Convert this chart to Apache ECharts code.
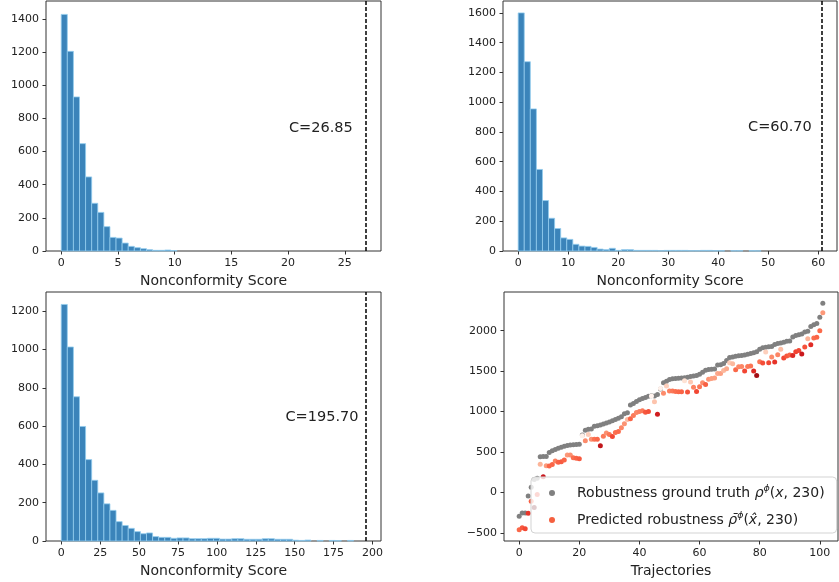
<!DOCTYPE html>
<html><head><meta charset="utf-8">
<script src="https://cdn.jsdelivr.net/npm/echarts@6/dist/echarts.min.js"></script>
<style>html,body{margin:0;padding:0;background:#fff}#c{width:839px;height:582px}</style>
</head><body><div id="c"></div>
<script>
// ---------------- data ----------------
const binCount = 50;
const cValues = [26.85, 60.70, 195.70];
const cLabels = ['C=26.85', 'C=60.70', 'C=195.70'];
const hist1Counts = [1428,1205,930,648,447,288,233,147,82,78,48,28,20,14,8,4,4,6,3,0,
  0,0,0,0,0,0,0,0,0,0, 0,0,0,0,0,0,0,0,0,0, 0,0,0,0,0,0,0,0,0,0];
const hist2Counts = [1600,1272,955,548,339,220,151,88,78,45,33,31,24,13,9,18,4,9,9,4,
  4,4,4,2,4,4,4,4,2,2,4,4,2,2,0,2,2,0,2,1, 0,0,0,0,0,0,0,0,0,0];
const hist3Counts = [1235,1013,753,598,425,317,251,194,160,101,81,66,49,38,42,23,19,19,14,16,
  16,12,12,12,14,14,10,10,12,12,9,9,9,12,12,9,9,9,4,3, 5,0,3,0,3,2,0,3,0,0];
const histX1Ticks = [0,5,10,15,20,25];
const histX2Ticks = [0,10,20,30,40,50,60];
const histX3Ticks = [0,25,50,75,100,125,150,175,200];
const histY1Ticks = [0,200,400,600,800,1000,1200,1400];
const histY2Ticks = [0,200,400,600,800,1000,1200,1400,1600];
const histY3Ticks = [0,200,400,600,800,1000,1200];
const trajXTicks = [0,20,40,60,80,100];
const trajYTicks = [-500,0,500,1000,1500,2000];

const groundTruth = [-295,-255,-255,-45,65,160,175,440,445,445,
  495,515,530,545,558,570,580,588,590,593,
  597,710,770,780,785,818,825,835,845,860,
  870,888,903,918,935,972,985,1080,1100,1125,
  1145,1160,1175,1188,1195,1192,1210,1280,1355,1375,
  1395,1405,1410,1412,1415,1418,1425,1432,1440,1445,
  1460,1485,1510,1520,1522,1526,1575,1580,1595,1630,
  1668,1676,1684,1690,1694,1698,1708,1718,1728,1738,
  1770,1790,1796,1800,1805,1828,1840,1848,1858,1868,
  1872,1922,1940,1950,1960,1985,1992,2050,2072,2090,
  2165,2340];
const predicted = [-462,-435,-450,-258,-110,-185,-25,350,195,330,
  326,345,388,372,380,400,462,462,430,422,
  418,700,639,717,659,659,657,577,696,734,
  717,692,742,754,800,849,903,911,952,989,
  1002,1010,993,1000,1192,1120,968,1286,1225,1315,
  1253,1253,1249,1245,1245,1380,1241,1365,1300,1249,
  1307,1356,1336,1398,1410,1414,1472,1470,1509,1530,
  1604,1591,1517,1554,1558,1501,1558,1563,1500,1447,
  1615,1600,1736,1604,1674,1612,1703,1769,1661,1686,
  1700,1694,1740,1755,1711,1798,1901,1826,1909,1920,
  2000,2222];
const trajectories = groundTruth.map((_, i) => i);

// ---------------- helpers ----------------
const FONT = 'DejaVu Sans';
const TXT = '#222';
const AX = '#333';

function histData(counts, c) {
  const w = c / binCount;
  return counts.map((n, i) => [i * w, (i + 1) * w, n]);
}
function renderBin(params, api) {
  const h = api.value(2);
  if (!(h > 0)) return null;
  const p0 = api.coord([api.value(0), 0]);
  const p1 = api.coord([api.value(1), h]);
  return {
    type: 'rect',
    shape: { x: p0[0], y: p1[1], width: p1[0] - p0[0], height: p0[1] - p1[1] },
    style: { fill: '#3b84ba', stroke: '#93cdef', lineWidth: 0.8 }
  };
}
function xAxisOf(idx, min, max, ticks, name) {
  return {
    type: 'value', gridIndex: idx, min: min, max: max,
    name: name, nameLocation: 'middle', nameGap: 23,
    nameTextStyle: { fontSize: 14, color: TXT, fontFamily: FONT },
    axisLine: { show: false, onZero: false },
    splitLine: { show: false },
    axisTick: { show: true, inside: false, length: 3.5, lineStyle: { color: AX, width: 1 }, customValues: ticks },
    axisLabel: { show: true, margin: 7, fontSize: 11, color: TXT, fontFamily: FONT, customValues: ticks }
  };
}
function yAxisOf(idx, min, max, ticks) {
  return {
    type: 'value', gridIndex: idx, min: min, max: max,
    axisLine: { show: false, onZero: false },
    splitLine: { show: false },
    axisTick: { show: true, inside: false, length: 3.5, lineStyle: { color: AX, width: 1 }, customValues: ticks },
    axisLabel: { show: true, margin: 7, fontSize: 11, color: TXT, fontFamily: FONT,
      customValues: ticks, formatter: v => (v < 0 ? '\u2212' + Math.abs(v) : String(v)) }
  };
}
function gridOf(left, top, width, height) {
  return { left: left, top: top, width: width, height: height, show: true,
    borderColor: AX, borderWidth: 1, backgroundColor: 'transparent', containLabel: false };
}
function cLineSeries(idx, c, tx, ty, label) {
  return {
    type: 'line', xAxisIndex: idx, yAxisIndex: idx, data: [], silent: true,
    markLine: {
      silent: true, symbol: 'none', animation: false,
      label: { show: false },
      lineStyle: { color: '#000', width: 1.5, type: [4, 2] },
      data: [{ xAxis: c }]
    },
    markPoint: {
      silent: true, symbol: 'circle', symbolSize: 0, animation: false,
      data: [{ coord: [tx, ty],
        label: { show: true, position: 'left', distance: 0, formatter: label,
          fontSize: 14.5, color: TXT, fontFamily: FONT } }]
    }
  };
}

const reds = ['#fff5f0','#fee0d2','#fcbba1','#fc9272','#fb6a4a','#ef3b2c','#cb181d','#a50f15','#67000d'];
const predData = trajectories.map((t, i) => [t, predicted[i], Math.abs(groundTruth[i] - predicted[i])]);
const gtData = trajectories.map((t, i) => [t, groundTruth[i]]);

const legendRich = {
  i: { fontStyle: 'italic', fontSize: 14, fontFamily: FONT, color: TXT },
  s: { fontStyle: 'italic', fontSize: 9.5, fontFamily: FONT, color: TXT, verticalAlign: 'top' }
};

const option = {
  animation: false,
  backgroundColor: '#fff',
  textStyle: { fontFamily: FONT },
  grid: [
    gridOf(46, 1, 335, 250),
    gridOf(503, 1, 334, 250),
    gridOf(46, 292, 335, 249),
    gridOf(504, 292, 334, 249)
  ],
  xAxis: [
    xAxisOf(0, -1.3425, 28.1925, histX1Ticks, 'Nonconformity Score'),
    xAxisOf(1, -3.035, 63.735, histX2Ticks, 'Nonconformity Score'),
    xAxisOf(2, -9.785, 205.485, histX3Ticks, 'Nonconformity Score'),
    xAxisOf(3, -5.05, 106.05, trajXTicks, 'Trajectories')
  ],
  yAxis: [
    yAxisOf(0, 0, 1509, histY1Ticks),
    yAxisOf(1, 0, 1680, histY2Ticks),
    yAxisOf(2, 0, 1300, histY3Ticks),
    yAxisOf(3, -600, 2478, trajYTicks)
  ],
  visualMap: {
    show: false, type: 'continuous', seriesIndex: 4, dimension: 2,
    min: 0, max: 330, inRange: { color: reds }
  },
  legend: {
    left: 531, top: 477, orient: 'vertical',
    data: ['gt', 'pred'],
    icon: 'circle', itemWidth: 40, itemHeight: 6, itemGap: 9,
    padding: [7, 12, 4, 18],
    backgroundColor: 'rgba(255,255,255,0.8)',
    borderColor: '#d3d3d3', borderWidth: 1, borderRadius: 4,
    selectedMode: false,
    textStyle: { fontSize: 14, color: TXT, fontFamily: FONT, lineHeight: 18, rich: legendRich },
    formatter: function (name) {
      if (name === 'gt') return 'Robustness ground truth {i|\u03c1}{s|\u03d5}({i|x}, 230)';
      return 'Predicted robustness {i|\u03c1\u0304}{s|\u03d5}({i|x\u0302}, 230)';
    }
  },
  series: [
    { type: 'custom', xAxisIndex: 0, yAxisIndex: 0, renderItem: renderBin, data: histData(hist1Counts, cValues[0]), encode: { x: [0, 1], y: 2 }, silent: true },
    { type: 'custom', xAxisIndex: 1, yAxisIndex: 1, renderItem: renderBin, data: histData(hist2Counts, cValues[1]), encode: { x: [0, 1], y: 2 }, silent: true },
    { type: 'custom', xAxisIndex: 2, yAxisIndex: 2, renderItem: renderBin, data: histData(hist3Counts, cValues[2]), encode: { x: [0, 1], y: 2 }, silent: true },
    { name: 'gt', type: 'scatter', xAxisIndex: 3, yAxisIndex: 3, data: gtData, symbolSize: 5,
      itemStyle: { color: '#808080', opacity: 1 }, silent: true },
    { name: 'pred', type: 'scatter', xAxisIndex: 3, yAxisIndex: 3, data: predData, symbolSize: 5,
      itemStyle: { color: '#f5603f', opacity: 1 }, silent: true },
    cLineSeries(0, cValues[0], 25.7, 742, cLabels[0]),
    cLineSeries(1, cValues[1], 58.7, 829, cLabels[1]),
    cLineSeries(2, cValues[2], 191, 647, cLabels[2])
  ]
};

const chart = echarts.init(document.getElementById('c'), null, { renderer: 'canvas' });
chart.setOption(option);
</script>
</body></html>
